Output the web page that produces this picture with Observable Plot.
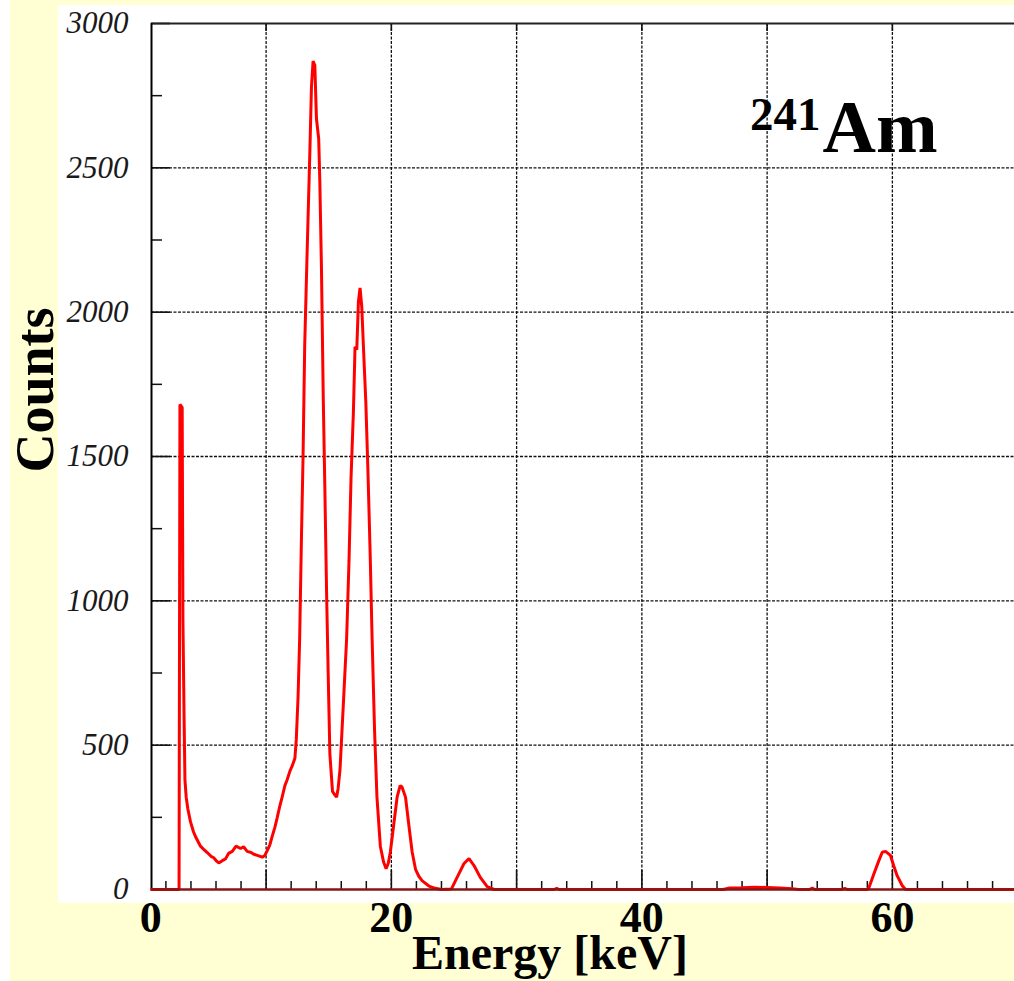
<!DOCTYPE html>
<html>
<head>
<meta charset="utf-8">
<script src="https://cdn.jsdelivr.net/npm/d3@7"></script>
<script src="https://cdn.jsdelivr.net/npm/@observablehq/plot@0.6"></script>
<style>
  html, body { margin: 0; padding: 0; }
  body { width: 1014px; height: 981px; position: relative; overflow: hidden; background: #ffffff; font-family: "Liberation Serif", "Times New Roman", serif; }
  #bg { position: absolute; left: 10px; top: 0; width: 1004px; height: 981px; background: #FFFFD3; }
  #panel { position: absolute; left: 58px; top: 5px; width: 956px; height: 898px; background: #ffffff; }
  #chart { position: absolute; left: 0; top: 0; }
  .ylab { position: absolute; left: 35px; top: 390px; transform: translate(-50%, -50%) rotate(-90deg); font-weight: bold; font-size: 54px; white-space: nowrap; color: #000; }
  .xlab { position: absolute; left: 550px; top: 938px; transform: translateX(-50%); font-weight: bold; font-size: 48px; line-height: 30px; white-space: nowrap; color: #000; }
  .iso { position: absolute; left: 750px; top: 90px; font-weight: bold; font-size: 74px; line-height: 74px; white-space: nowrap; color: #000; }
  .iso sup { font-size: 47px; vertical-align: 22px; line-height: 0; margin-right: 2px; }
</style>
</head>
<body>
<div id="bg"></div>
<div id="panel"></div>
<div id="chart"></div>
<div class="ylab">Counts</div>
<div class="xlab">Energy [keV]</div>
<div class="iso"><sup>241</sup>Am</div>
<script>
const energy = [
  0.85, 3.05, 3.12, 3.3, 3.36, 3.45, 3.52, 3.62, 3.75, 3.96, 4.2, 4.4, 4.76, 5.0, 5.3, 5.6, 5.82, 6.05, 6.22, 6.5,
  6.76, 7.0, 7.3, 7.6, 7.96, 8.2, 8.49, 8.8, 9.02, 9.3, 9.69, 9.9, 10.09, 10.3, 10.49, 10.7, 10.89, 11.1, 11.28, 11.5,
  11.68, 11.9, 12.1, 12.3, 12.41, 12.55, 12.68, 12.82, 12.95, 13.08, 13.27, 13.49, 13.62, 13.75, 13.89, 14.02, 14.2, 14.29, 14.42, 14.56,
  14.69, 14.83, 14.96, 15.09, 15.3, 15.45, 15.63, 15.75, 15.9, 16.17, 16.43, 16.62, 16.78, 16.97, 17.1, 17.24, 17.37, 17.5, 17.64, 17.77,
  17.96, 18.12, 18.31, 18.45, 18.66, 18.85, 19.12, 19.38, 19.58, 19.75, 19.92, 20.19, 20.46, 20.7, 20.85, 21.13, 21.39, 21.66, 21.93, 22.2,
  22.47, 23.0, 23.5, 24.0, 24.8, 25.26, 25.8, 26.2, 26.6, 27.1, 27.65, 28.2, 33.0, 33.2, 33.4, 46.5, 47.0, 48.0, 49.0, 50.0,
  51.0, 52.0, 52.5, 53.4, 53.6, 53.8, 56.0, 56.2, 56.4, 58.0, 58.12, 58.52, 58.92, 59.19, 59.45, 59.85, 60.1, 60.38, 60.78, 61.05,
  69.75
];
const counts = [
  0, 0, 1680, 1670, 930, 600, 380, 320, 280, 235, 200, 180, 150, 140, 128, 115, 110, 98, 92, 100,
  106, 125, 132, 150, 142, 148, 132, 128, 122, 118, 112, 118, 135, 155, 185, 215, 250, 290, 320, 360,
  380, 410, 430, 455, 520, 665, 870, 1215, 1500, 1880, 2200, 2550, 2780, 2870, 2855, 2670, 2600, 2450, 2150, 1710,
  1390, 1025, 740, 470, 340, 330, 320, 350, 415, 645, 870, 1140, 1425, 1655, 1880, 1870, 2036, 2084, 2017, 1880,
  1690, 1465, 1160, 890, 550, 320, 150, 95, 72, 90, 130, 225, 320, 360, 355, 320, 225, 130, 70, 45,
  30, 12, 4, 0, 2, 43, 90, 107, 83, 42, 10, 0, 0, 4, 0, 0, 5, 6, 8, 7,
  5, 3, 0, 0, 5, 0, 0, 4, 0, 0, 5, 54, 100, 129, 132, 118, 83, 48, 14, 0,
  0
];
const xDomain = [0.85, 69.75];
const yDomain = [0, 3000];
const majorX = [10, 20, 30, 40, 50, 60];
const minorX = [2, 4, 6, 8, 12, 14, 16, 18, 22, 24, 26, 28, 32, 34, 36, 38, 42, 44, 46, 48, 52, 54, 56, 58, 62, 64, 66, 68];
const majorY = [0, 500, 1000, 1500, 2000, 2500, 3000];
const minorY = [250, 750, 1250, 1750, 2250, 2750];
const gridY = [500, 1000, 1500, 2000, 2500];
const bigXLabels = [20, 40, 60];
const zeroXLabel = [0];

const data = energy.map((e, i) => ({energy: e, counts: counts[i]}));

const W = 1014, H = 981;
const mL = 151, mR = 0, mT = 23, mB = 92;
const frameW = W - mL - mR, frameH = H - mT - mB;
const ink = "#111";

const chart = Plot.plot({
  width: W,
  height: H,
  marginLeft: mL,
  marginRight: mR,
  marginTop: mT,
  marginBottom: mB,
  style: {background: "transparent", fontFamily: "'Liberation Serif', 'Times New Roman', serif", color: "#000", overflow: "visible"},
  x: {domain: xDomain, axis: null},
  y: {domain: yDomain},
  marks: [
    Plot.ruleX(majorX, {stroke: ink, strokeWidth: 1.3, strokeDasharray: "3,1.5"}),
    Plot.ruleY(gridY, {stroke: ink, strokeWidth: 1.3, strokeDasharray: "3,1.5"}),
    Plot.ruleY(minorY, {insetRight: frameW - 11, stroke: ink, strokeWidth: 1.5}),
    Plot.ruleY(majorY, {insetRight: frameW - 19, stroke: ink, strokeWidth: 1.6}),
    Plot.ruleX(minorX, {insetTop: frameH - 8, stroke: ink, strokeWidth: 1.5}),
    Plot.ruleX(majorX, {insetTop: frameH - 19, stroke: ink, strokeWidth: 1.6}),
    Plot.ruleX(majorX, {insetBottom: frameH - 8, stroke: ink, strokeWidth: 1.6}),
    Plot.ruleY([yDomain[1]], {stroke: "#222", strokeWidth: 2}),
    Plot.ruleX([xDomain[0]], {stroke: "#000", strokeWidth: 2}),
    Plot.line(data, {x: "energy", y: "counts", stroke: "#f00", strokeWidth: 3, strokeLinejoin: "miter"}),
    Plot.ruleY([yDomain[0]], {stroke: "#8a1515", strokeWidth: 2.5}),
    Plot.axisY(majorY, {tickSize: 0, tickPadding: 23, tickFormat: d => String(d), fontSize: 31, fontStyle: "italic", fill: "#1a1a1a", label: null}),
    Plot.text(bigXLabels, {x: d => d, text: d => String(d), frameAnchor: "bottom", lineAnchor: "top", dy: 11, fontSize: 44, fontWeight: "bold", fill: "#000"}),
    Plot.text(zeroXLabel, {x: d => d, text: d => String(d), frameAnchor: "bottom", lineAnchor: "top", dy: 11, dx: 10, fontSize: 44, fontWeight: "bold", fill: "#000"})
  ]
});
document.getElementById("chart").appendChild(chart);
</script>
</body>
</html>
